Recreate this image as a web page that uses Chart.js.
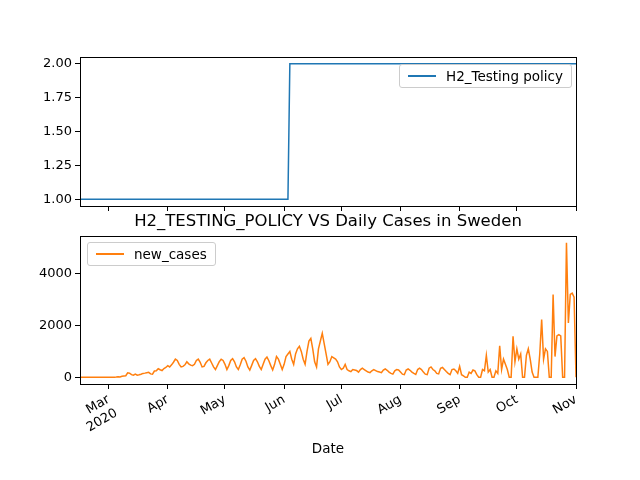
<!DOCTYPE html>
<html>
<head>
<meta charset="utf-8">
<script src="https://cdn.jsdelivr.net/npm/chart.js@4"></script>
<style>
  body { margin: 0; background: #fff; font-family: "DejaVu Sans", sans-serif; }
  #wrap { position: relative; width: 640px; height: 480px; }
  .box { position: absolute; left: 0; width: 640px; }
  .legend { position: absolute; background: rgba(255,255,255,0.8); border: 1px solid #ccc;
            border-radius: 3px; font-size: 13.5px; color: #000; padding: 3px 8px 3px 8px;
            display: flex; align-items: center; }
  .legend span.sw { display: inline-block; width: 28px; height: 0; border-top: 2px solid; margin-right: 10px; }
  #title { position: absolute; left: 80px; width: 496px; top: 211px; text-align: center; font-size: 16.5px; }
  #xlabel { position: absolute; left: 80px; width: 496px; top: 440px; text-align: center; font-size: 13.5px; }
</style>
</head>
<body>
<div id="wrap">
  <div class="box" style="top:0;height:220px"><canvas id="top" width="640" height="220"></canvas></div>
  <div class="box" style="top:220px;height:260px"><canvas id="bottom" width="640" height="260"></canvas></div>
  <div id="title">H2_TESTING_POLICY VS Daily Cases in Sweden</div>
  <div id="xlabel">Date</div>
  <div class="legend" style="left:399px;top:64px"><span class="sw" style="border-color:#1f77b4"></span>H2_Testing policy</div>
  <div class="legend" style="left:87px;top:242px"><span class="sw" style="border-color:#ff7f0e"></span>new_cases</div>
</div>
<script>
// day index 0 = 2020-02-15
const monthTicks = [15, 46, 76, 107, 137, 168, 199, 229, 260];
const monthLabels = [["Mar", "2020"], "Apr", "May", "Jun", "Jul", "Aug", "Sep", "Oct", "Nov"];

const febCases = [0,0,0,0,0,0,0,0,0,0,1,0,0,5,2];
const marCases = [1,3,1,5,11,21,13,39,50,60,170,158,100,78,120,80,95,115,150,160,175,190,130,120,240,250,330,290,260,340,380];
const aprCases = [450,400,480,580,700,650,500,400,420,480,600,520,470,450,500,650,700,580,400,420,560,650,700,550,400,300,450,600,700,650];
const mayCases = [500,300,450,650,720,600,400,300,480,700,760,620,400,280,460,650,720,600,420,300,500,700,780,640,450,280,500,800,700,500,300];
const junCases = [500,800,900,1000,700,500,900,1100,1200,1000,700,500,1000,1400,1500,1100,600,400,1100,1400,1700,1300,900,500,600,800,750,700,600,400];
const julCases = [300,350,500,300,250,220,300,280,260,200,300,350,300,250,200,180,250,300,260,220,200,180,280,320,270,200,150,120,250,300,280];
const augCases = [200,120,100,280,320,270,200,150,110,300,350,300,200,120,100,350,400,300,250,150,130,350,380,300,220,150,100,300,320,250,150];
const sepOctCases = [420,100,50,0,0,200,150, 280,250,100,0,0,300,250, 850,200,300,0,0,250,150,
  1220,300,700,500,300,0,0, 1580,600,1100,700,900,0,0, 850,1100,700,200,0,0,0,
  900,2230,700,1100,1000,0,0, 3200,800,1600,1650,1600,0,0, 5200,2100,3200,3250,3100,0];

const newCases = [].concat(febCases, marCases, aprCases, mayCases, junCases, julCases, augCases, sepOctCases);
const days = newCases.map((_, i) => i);
const policyChangeDay = 109;
const testingPolicy = days.map(d => (d <= policyChangeDay ? 1 : 2));

Chart.defaults.font = { family: "DejaVu Sans", size: 13 };
Chart.defaults.color = "#000";

// draw the full axes frame like matplotlib
const frame = {
  id: "frame",
  afterDraw(chart) {
    const { ctx, chartArea: a } = chart;
    ctx.save();
    ctx.strokeStyle = "#000";
    ctx.lineWidth = 1;
    ctx.strokeRect(Math.round(a.left) + 0.5, Math.round(a.top) + 0.5,
      Math.round(a.right - a.left), Math.round(a.bottom - a.top));
    ctx.restore();
  },
};

function xAxis(showLabels, height) {
  return {
    type: "linear", min: 0, max: days.length - 1,
    border: { color: "#000" },
    grid: { display: true, drawOnChartArea: false, color: "#000", tickLength: 5 },
    afterBuildTicks: (ax) => { ax.ticks = monthTicks.map(v => ({ value: v })); },
    ticks: {
      display: showLabels, autoSkip: false, maxRotation: 30, minRotation: 30,
      callback: (v) => monthLabels[monthTicks.indexOf(v)],
    },
    afterFit: (ax) => { ax.height = height; },
  };
}
function yAxis(min, max, step, fmt) {
  return {
    min: min, max: max,
    border: { color: "#000" },
    grid: { display: true, drawOnChartArea: false, color: "#000", tickLength: 5 },
    afterBuildTicks: (ax) => {
      const t = [];
      for (let v = Math.ceil(min / step) * step; v <= max + 1e-9; v += step) t.push({ value: v });
      ax.ticks = t;
    },
    ticks: { callback: fmt },
    afterFit: (ax) => { ax.width = 80; },
  };
}

new Chart(document.getElementById("top"), {
  type: "line",
  data: { labels: days, datasets: [{ data: days.map((d, i) => ({ x: d, y: testingPolicy[i] })),
    borderColor: "#1f77b4", borderWidth: 1.5, pointRadius: 0, tension: 0 }] },
  options: {
    responsive: false, animation: false,
    layout: { padding: { top: 57, right: 64, left: 0, bottom: 0 } },
    plugins: { legend: { display: false }, tooltip: { enabled: false } },
    scales: { x: xAxis(false, 14), y: yAxis(0.95, 2.05, 0.25, v => v.toFixed(2)) },
  },
  plugins: [frame],
});

new Chart(document.getElementById("bottom"), {
  type: "line",
  data: { labels: days, datasets: [{ data: days.map((d, i) => ({ x: d, y: newCases[i] })),
    borderColor: "#ff7f0e", borderWidth: 1.5, pointRadius: 0, tension: 0 }] },
  options: {
    responsive: false, animation: false,
    layout: { padding: { top: 16, right: 64, left: 0, bottom: 0 } },
    plugins: { legend: { display: false }, tooltip: { enabled: false } },
    scales: { x: xAxis(true, 96), y: yAxis(-260, 5460, 2000, v => String(v)) },
  },
  plugins: [frame],
});
</script>
</body>
</html>
